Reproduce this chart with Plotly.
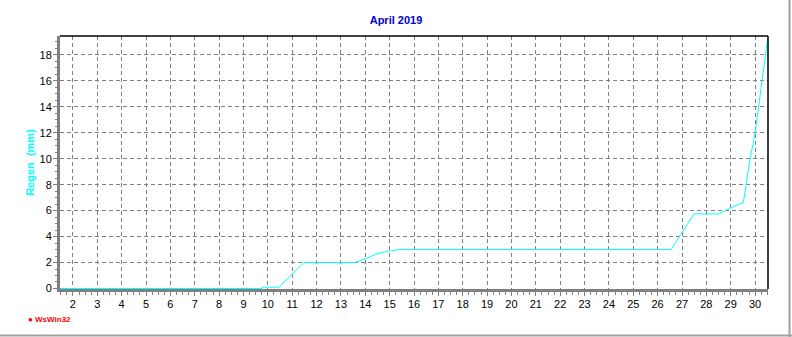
import plotly.graph_objects as go

# Cumulative rain (mm) over April 2019, x in day-of-month
days = [1.47, 9.76, 9.78, 10.46, 11.48, 13.58, 13.99, 14.47, 14.94, 15.42,
        26.55, 26.9, 27.49, 28.53, 28.97, 29.52, 29.63, 29.79, 30.0, 30.52]
rain = [0.0, 0.0, 0.1, 0.1, 2.0, 2.0, 2.28, 2.67, 2.87, 3.0,
        3.0, 4.0, 5.75, 5.75, 6.2, 6.64, 8.13, 9.92, 11.97, 19.3]
x_ticks = list(range(2, 31))
y_ticks = list(range(0, 19, 2))

fig = go.Figure()
fig.add_trace(go.Scatter(x=days, y=rain, mode="lines",
                         line=dict(color="#00FFFF", width=1), hoverinfo="skip"))

fig.update_layout(
    width=792, height=337,
    margin=dict(l=60, r=24, t=36, b=48),
    paper_bgcolor="white", plot_bgcolor="white",
    showlegend=False,
    title=dict(text="<b>April 2019</b>", x=0.5, xref="container", xanchor="center",
               y=1 - 20 / 337, yref="container", yanchor="middle",
               font=dict(family="Liberation Sans, Arial", size=11, color="#0000CC")),
    font=dict(family="Liberation Sans, Arial", size=11, color="black"),
)
fig.update_xaxes(
    range=[1.47, 30.53], tickvals=x_ticks, ticktext=[str(v) for v in x_ticks],
    showgrid=True, gridcolor="#808080", griddash="4px,3px", gridwidth=1,
    showline=True, linecolor="#808080", linewidth=3, mirror=False,
    ticks="outside", ticklen=4, tickcolor="#808080", tickwidth=1,
    ticklabelstandoff=-1,
    minor=dict(dtick=0.25, tick0=0, ticks="outside", ticklen=3, tickcolor="#808080", showgrid=False),
    zeroline=False, layer="below traces", fixedrange=True,
)
fig.update_yaxes(
    range=[-0.04, 19.46], tickvals=y_ticks, ticktext=[str(v) for v in y_ticks],
    showgrid=True, gridcolor="#808080", griddash="4px,3px", gridwidth=1,
    showline=True, linecolor="#808080", linewidth=3, mirror=False,
    ticks="outside", ticklen=4, tickcolor="#808080", tickwidth=1,
    ticklabelstandoff=-1,
    minor=dict(dtick=0.5, ticks="outside", ticklen=2, tickcolor="#808080", showgrid=False),
    zeroline=False, layer="below traces", fixedrange=True,
    title=dict(text="<b>Regen  (mm)</b>", standoff=3,
               font=dict(family="Liberation Sans, Arial", size=11, color="#00FFFF")),
)
# top and right thin black frame
fig.add_shape(type="line", xref="paper", yref="paper", x0=0, x1=1, y0=1, y1=1,
              line=dict(color="black", width=1.5))
fig.add_shape(type="line", xref="paper", yref="paper", x0=1, x1=1, y0=0, y1=1,
              line=dict(color="black", width=1.5))
# window border lines (right and bottom)
pw, ph = 792 - 60 - 24, 337 - 36 - 48
fig.add_shape(type="line", xref="paper", yref="paper",
              x0=(789.5 - 60) / pw, x1=(789.5 - 60) / pw, y0=(289 - 0) / ph, y1=(289 - 337) / ph,
              line=dict(color="#A0A0A0", width=2))
fig.add_shape(type="line", xref="paper", yref="paper",
              x0=(0 - 60) / pw, x1=(792 - 60) / pw, y0=(289 - 335.5) / ph, y1=(289 - 335.5) / ph,
              line=dict(color="#A0A0A0", width=2))

fig.add_annotation(text="<b>● WsWin32</b>", xref="paper", yref="paper",
                   x=(26 - 60) / pw, y=(289 - 319) / ph, xanchor="left", yanchor="middle",
                   showarrow=False, font=dict(family="Liberation Sans, Arial", size=8, color="#FF0000"))

fig.write_html("out.html")
